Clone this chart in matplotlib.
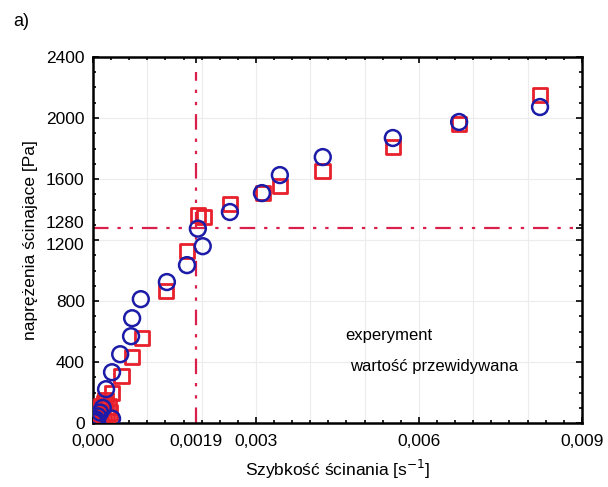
import numpy as np
import matplotlib
matplotlib.use("Agg")
import matplotlib.pyplot as plt
import matplotlib.transforms as mtransforms
from matplotlib.ticker import FixedLocator, MultipleLocator

plt.rcParams['font.family'] = ['Liberation Sans', 'DejaVu Sans']

# --- measured shear stress vs shear rate (experyment) ---
exp_rate = [0.00002, 0.00005, 0.00009, 0.00013, 0.00018, 0.00035,
            0.00024, 0.00035, 0.0005, 0.0007, 0.00072, 0.00088,
            0.00136, 0.00173, 0.00202, 0.00193, 0.00252, 0.00311,
            0.00344, 0.00423, 0.00552, 0.00674, 0.00823]
exp_stress = [8, 25, 45, 70, 100, 30,
              223, 334, 452, 570, 688, 813,
              925, 1036, 1160, 1275, 1384, 1508,
              1626, 1744, 1869, 1974, 2072]

# --- model prediction (wartość przewidywana) ---
pred_rate = [0.00001, 0.00003, 0.00005, 0.00008, 0.0001, 0.00013,
             0.00016, 0.0002, 0.00023, 0.0001, 0.00015, 0.0002,
             0.00025, 0.0003, 0.00028,
             0.00035, 0.00052, 0.00072,
             0.0009, 0.00134, 0.00173, 0.00193, 0.00204, 0.00252,
             0.00313, 0.00344, 0.00423, 0.00552, 0.00674, 0.00823]
pred_stress = [5, 15, 30, 50, 70, 90,
               110, 130, 150, 5, 20, 10,
               40, 70, 110,
               197, 308, 433,
               557, 866, 1128, 1364, 1351, 1436,
               1508, 1554, 1652, 1810, 1961, 2151]

# yield point markers
x_crit = 0.0019
y_crit = 1280

x_ticks = [0.0, 0.0019, 0.003, 0.006, 0.009]
x_ticklabels = ["0,000", "0,0019", "0,003", "0,006", "0,009"]
y_ticks = [0, 400, 800, 1200, 1280, 1600, 2000, 2400]

fig = plt.figure(figsize=(6.08, 4.87), dpi=100)
ax = fig.add_axes([0.153, 0.131, 0.804, 0.752])

ax.set_xlim(0, 0.009)
ax.set_ylim(0, 2400)

# light grid on the 0.001 / 400 steps
for gx in np.arange(0.001, 0.009, 0.001):
    ax.axvline(gx, color='#ececec', lw=0.8, zorder=0)
for gy in range(400, 2400, 400):
    ax.axhline(gy, color='#ececec', lw=0.8, zorder=0)

dashdotdot = (0, (7, 4, 1.5, 4, 1.5, 4))
ax.plot([0, 0.00892], [y_crit, y_crit], color='#d8204a', lw=1.6,
        linestyle=dashdotdot, zorder=2)
ax.plot([x_crit, x_crit], [0, 2300], color='#d8204a', lw=1.6,
        linestyle=dashdotdot, zorder=2)

ax.scatter(pred_rate, pred_stress, marker='s', s=110, facecolors='none',
           edgecolors='#e8202c', linewidths=2.0, zorder=3)
ax.scatter(exp_rate, exp_stress, marker='o', s=130, facecolors='none',
           edgecolors='#1c1ca8', linewidths=1.8, zorder=4)

ax.text(0.515, 0.24, "experyment", transform=ax.transAxes, fontsize=12,
        va='center', ha='left')
ax.text(0.526, 0.156, "wartość przewidywana", transform=ax.transAxes,
        fontsize=12, va='center', ha='left')

ax.xaxis.set_major_locator(FixedLocator(x_ticks))
ax.set_xticklabels(x_ticklabels)
ax.xaxis.set_minor_locator(MultipleLocator(0.001 / 3))
ax.yaxis.set_major_locator(FixedLocator(y_ticks))
ax.yaxis.set_minor_locator(MultipleLocator(100))

ax.tick_params(which='both', direction='in', top=True, right=True,
               labelsize=12.5, width=1.2)
ax.tick_params(which='major', length=4)
ax.tick_params(which='minor', length=2.5)
ax.tick_params(axis='x', pad=8)
ax.tick_params(axis='y', pad=6)

# 1280 and 1200 sit close together: nudge them apart
fig.canvas.draw()
for lbl in ax.get_yticklabels():
    if lbl.get_text() == "1280":
        lbl.set_transform(lbl.get_transform() +
                          mtransforms.ScaledTranslation(0, 4 / 72, fig.dpi_scale_trans))
    elif lbl.get_text() == "1200":
        lbl.set_transform(lbl.get_transform() +
                          mtransforms.ScaledTranslation(0, -3 / 72, fig.dpi_scale_trans))

for sp in ax.spines.values():
    sp.set_linewidth(1.8)

ax.set_xlabel("Szybkość ścinania [s$^{-1}$]", fontsize=12.5, labelpad=6)
ax.set_ylabel("naprężenia ścinajace [Pa]", fontsize=12.5, labelpad=6)

fig.text(0.022, 0.955, "a)", fontsize=13, va='center', ha='left')

fig.savefig("out.png", dpi=100)
